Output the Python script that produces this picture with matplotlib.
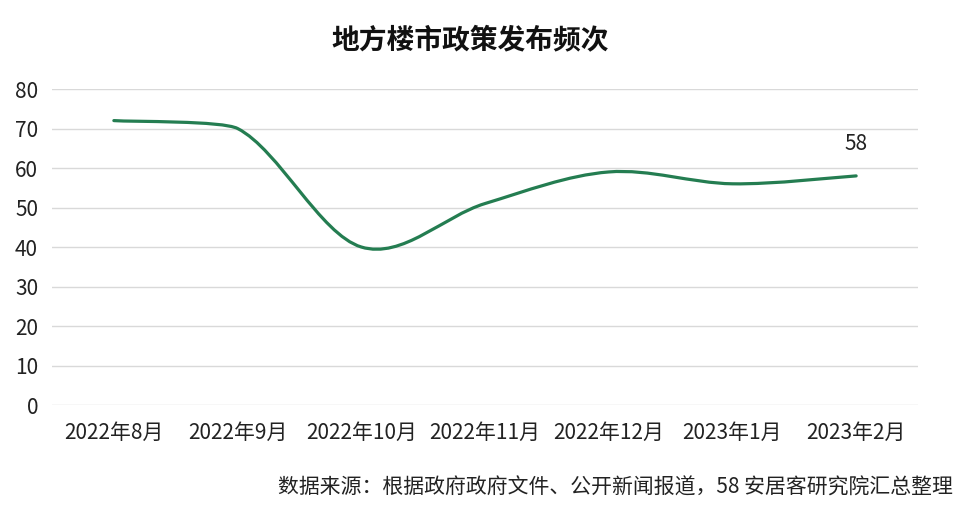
import numpy as np
import matplotlib.pyplot as plt
from matplotlib.path import Path
from matplotlib.patches import PathPatch

plt.rcParams['font.family'] = ['Noto Sans CJK SC', 'DejaVu Sans']

months = ["2022年8月", "2022年9月", "2022年10月", "2022年11月",
          "2022年12月", "2023年1月", "2023年2月"]
counts = [72, 70, 40, 51, 59, 56, 58]
yticks = [0, 10, 20, 30, 40, 50, 60, 70, 80]

line_color = "#247D51"
grid_color = "#D9D9D9"
text_color = "#222222"


def clamp_arm(anchor, ctrl, lo, hi):
    # shorten the control arm so the curve doesn't bulge past the segment's range
    dy = ctrl[1] - anchor[1]
    if dy == 0:
        return ctrl
    lim = hi if dy > 0 else lo
    f = min(1.0, max(0.0, (lim - anchor[1]) / dy))
    return anchor + (ctrl - anchor) * f


def smooth_path(xs, ys):
    # excel-ish smoothed line: catmull-rom turned into cubic beziers
    pts = np.column_stack([xs, ys]).astype(float)
    ext = np.vstack([pts[0], pts, pts[-1]])
    # only tame the arms at points sitting on a monotone run (peaks keep their round top)
    mono = [False] * len(ext)
    for i in range(2, len(ext) - 2):
        a, b, c = ext[i - 1][1], ext[i][1], ext[i + 1][1]
        mono[i] = (a - b) * (b - c) > 0
    verts = [pts[0]]
    codes = [Path.MOVETO]
    for i in range(1, len(ext) - 2):
        p0, p1, p2, p3 = ext[i - 1], ext[i], ext[i + 1], ext[i + 2]
        lo, hi = min(p1[1], p2[1]), max(p1[1], p2[1])
        c1 = p1 + (p2 - p0) / 6
        c2 = p2 - (p3 - p1) / 6
        if mono[i]:
            c1 = clamp_arm(p1, c1, lo, hi)
        if mono[i + 1]:
            c2 = clamp_arm(p2, c2, lo, hi)
        verts += [c1, c2, p2]
        codes += [Path.CURVE4] * 3
    return Path(verts, codes)


fig = plt.figure(figsize=(9.6, 5.11), dpi=100)
ax = fig.add_axes([52 / 960, 1 - 405 / 511, 866 / 960, 316 / 511])

x = np.arange(len(months))
patch = PathPatch(smooth_path(x, counts), facecolor="none", edgecolor=line_color,
                  lw=2.3, capstyle="round", zorder=3)
ax.add_patch(patch)

ax.set_xlim(-0.5, len(months) - 0.5)
ax.set_ylim(0, 80)
ax.set_yticks(yticks)
ax.set_xticks(x)
ax.set_xticklabels(months, fontsize=15, color=text_color)
ax.tick_params(axis="y", labelsize=15, colors=text_color, length=0, pad=10)
ax.tick_params(axis="x", length=0, pad=12, colors=text_color)
ax.grid(axis="y", color=grid_color, lw=1)
ax.set_axisbelow(True)
for s in ax.spines.values():
    s.set_visible(False)

ax.annotate(str(counts[-1]), (x[-1], counts[-1]), xytext=(0, 23),
            textcoords="offset points", ha="center", va="center", fontsize=15,
            color=text_color)

fig.text(0.49, 1 - 40 / 511, "地方楼市政策发布频次", ha="center", va="center",
         fontsize=20, fontweight="bold", color="#111111")
fig.text(953 / 960, 1 - 488 / 511,
         "数据来源：根据政府政府文件、公开新闻报道，58 安居客研究院汇总整理",
         ha="right", va="center", fontsize=15, color=text_color)

fig.savefig("out.png", dpi=100)
